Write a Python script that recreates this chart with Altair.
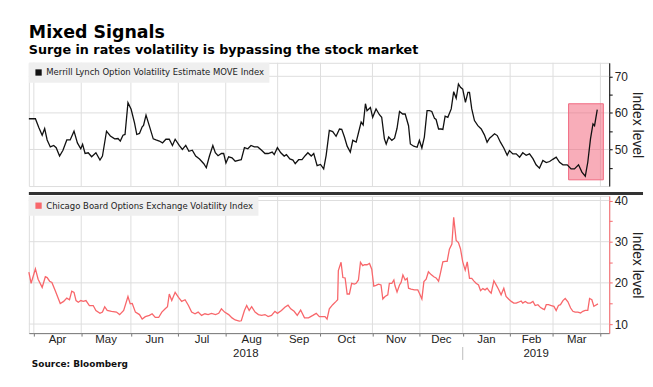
import altair as alt
import pandas as pd

TITLE = "Mixed Signals"
SUBTITLE = "Surge in rates volatility is bypassing the stock market"
MOVE_NAME = "Merrill Lynch Option Volatility Estimate MOVE Index"
VIX_NAME = "Chicago Board Options Exchange Volatility Index"
SOURCE = "Source: Bloomberg"
Y_TITLE = "Index level"

# x = trading-session position (0 = first session of April 2018)
move_pos = [-2.7, 0.2, 1.7, 3.2, 4.3, 5.4, 6.8, 8.3, 9.4, 10.9, 12.4, 14.1, 15.6, 17.3, 18.8,
            20.3, 21.1, 22.2, 23.6, 25.1, 27.0, 28.8, 29.9, 31.7, 33.4, 35.3, 36.8, 37.8, 39.0,
            39.9, 41.2, 42.6, 44.1, 45.1, 46.3, 47.5, 48.1, 49.2, 50.7, 52.4, 53.6, 55.1, 56.5,
            58.0, 59.5, 60.9, 62.1, 63.9, 65.3, 66.8, 68.2, 69.7, 71.2, 72.9, 74.8, 75.9, 77.3,
            78.8, 79.9, 81.1, 82.6, 83.6, 84.6, 85.8, 87.3, 88.7, 90.5, 91.4, 92.8, 94.3, 95.7,
            97.2, 98.7, 100.4, 101.9, 103.3, 105.1, 106.0, 107.4, 108.9, 110.4, 111.4, 112.9,
            114.3, 115.3, 116.8, 118.3, 119.7, 120.9, 122.4, 123.5, 125.0, 126.5, 127.9, 129.0,
            130.4, 131.9, 133.4, 134.9, 135.9, 137.1, 138.3, 139.7, 140.8, 142.3, 143.3, 144.5,
            145.4, 146.4, 147.1, 148.6, 149.6, 151.1, 152.6, 153.6, 154.8, 155.6, 156.7, 158.1,
            159.3, 160.4, 161.5, 162.9, 164.0, 165.5, 166.3, 167.8, 169.3, 170.3, 171.4, 172.5,
            173.7, 174.8, 175.8, 177.0, 177.7, 178.8, 179.9, 180.7, 181.7, 182.9, 184.4, 185.5,
            186.6, 187.6, 188.5, 189.5, 190.7, 191.8, 192.5, 193.5, 194.7, 196.2, 197.7, 199.1,
            200.3, 201.4, 202.4, 203.6, 204.8, 206.2, 207.7, 209.2, 210.2, 211.7, 213.2, 214.7,
            216.1, 217.6, 219.1, 220.6, 222.0, 223.5, 225.0, 226.5, 228.0, 229.4, 230.9, 232.4,
            233.9, 235.8, 237.5, 239.0, 240.8, 242.3, 243.8, 244.9, 246.1, 247.2, 247.9, 249.1]
move_val = [58.4, 58.4, 56.0, 53.9, 55.7, 52.6, 50.7, 51.1, 50.5, 48.2, 49.8, 52.6, 52.6, 55.0, 51.8,
            50.2, 51.4, 48.9, 49.1, 48.0, 49.1, 47.1, 48.2, 55.0, 53.7, 52.9, 53.0, 52.3, 53.9,
            54.1, 62.8, 61.0, 57.3, 54.1, 54.4, 56.2, 56.6, 59.4, 56.4, 52.9, 52.6, 52.3, 51.8,
            52.8, 52.8, 51.1, 52.8, 51.1, 50.0, 51.1, 49.5, 49.8, 48.2, 47.4, 46.1, 45.0, 48.2,
            51.1, 49.1, 48.3, 48.9, 48.9, 46.3, 48.0, 47.7, 46.8, 47.1, 47.2, 50.5, 50.2, 51.1,
            50.7, 50.7, 49.8, 48.9, 48.9, 49.3, 48.6, 50.5, 49.1, 48.2, 48.6, 47.4,
            47.1, 46.1, 47.2, 47.2, 48.3, 49.1, 48.2, 48.9, 45.6, 45.9, 44.7, 48.4,
            55.2, 54.9, 53.6, 55.6, 55.5, 53.4, 50.9, 49.3, 52.5, 52.0, 54.5, 57.5,
            56.7, 62.5, 60.6, 61.5, 58.8, 61.1, 59.5, 58.8, 52.9, 51.5, 53.4, 52.5,
            53.1, 55.8, 60.4, 59.7, 59.7, 56.5, 51.5, 50.9, 50.6, 52.5, 50.4, 53.4,
            60.6, 60.6, 60.4, 58.5, 58.2, 55.6, 55.6, 55.5, 59.1, 58.8, 61.1, 65.8,
            64.0, 67.9, 67.0, 66.5, 62.9, 65.6, 65.6, 61.1, 57.9, 56.5, 55.6, 54.0,
            52.0, 53.1, 53.6, 54.3, 53.8, 52.0, 50.4, 48.4, 49.7, 48.8, 48.8, 47.9,
            49.1, 48.4, 48.8, 47.5, 45.8, 44.9, 47.0, 46.4, 46.7, 47.3, 47.9, 46.5,
            45.8, 45.8, 44.7, 44.7, 45.8, 43.8, 42.7, 46.5, 52.9, 57.0, 56.5, 60.9]

vix_pos = [-2.7, -1.7, 0.2, 1.4, 3.2, 4.6, 5.4, 6.5, 7.5, 9.0, 11.2, 12.7, 14.1, 15.3, 16.3, 17.3,
           18.2, 19.2, 20.3, 21.4, 22.6, 24.1, 25.8, 27.0, 28.8, 29.9, 30.9, 32.0, 33.9, 36.1,
           37.5, 39.3, 41.2, 42.2, 43.1, 44.5, 46.3, 47.5, 48.9, 50.7, 51.9, 53.3, 54.8, 56.2,
           57.7, 58.7, 59.5, 60.6, 62.1, 63.6, 65.0, 66.5, 68.0, 69.4, 70.9, 72.3, 73.8, 75.3,
           76.7, 78.2, 80.0, 81.4, 82.6, 84.0, 85.8, 87.3, 88.7, 90.5, 91.4, 92.8, 93.8, 94.9,
           96.0, 97.5, 99.0, 100.4, 101.9, 103.3, 104.8, 106.3, 107.4, 109.2, 110.7, 112.1,
           113.3, 114.8, 116.2, 117.7, 119.4, 121.2, 123.1, 124.6, 126.0, 126.8, 128.5, 129.4,
           130.4, 131.9, 133.4, 134.1, 134.4, 135.6, 136.4, 137.4, 138.3, 139.3, 140.3, 141.5,
           142.3, 143.3, 144.2, 145.2, 146.0, 147.1, 148.2, 149.2, 150.1, 151.1, 152.2, 153.3,
           154.1, 155.1, 156.3, 157.0, 158.1, 159.0, 159.5, 160.4, 161.5, 162.2, 163.0, 164.0,
           164.9, 165.5, 166.6, 168.1, 169.6, 170.3, 171.4, 172.3, 173.3, 174.3, 175.5, 176.7,
           177.7, 178.8, 179.6, 180.7, 181.7, 182.6, 183.6, 184.7, 185.5, 186.6, 187.6, 188.5,
           189.5, 190.6, 191.5, 192.5, 193.5, 194.4, 195.4, 196.5, 197.4, 198.4, 199.4, 200.3,
           201.4, 202.1, 203.3, 204.3, 205.3, 206.5, 207.7, 208.7, 209.8, 211.0, 212.1, 213.2,
           214.2, 215.4, 216.1, 217.2, 218.3, 219.5, 220.6, 221.6, 222.8, 224.0, 225.0, 225.7,
           226.5, 227.5, 228.7, 229.9, 230.9, 231.9, 232.8, 233.9, 234.9, 236.1, 237.3, 238.3,
           239.3, 240.5, 241.7, 242.7, 243.8, 244.9, 245.7, 246.7, 247.6, 248.2, 249.4]
vix_val = [22.6, 19.9, 23.4, 20.9, 18.9, 21.5, 21.3, 20.4, 20.1, 18.1, 15.0, 15.5, 16.3, 15.9, 18.0, 17.7,
           15.7, 15.3, 15.7, 15.5, 15.7, 14.5, 14.5, 13.3, 12.6, 12.9, 14.2, 13.3, 13.1, 12.9,
           12.3, 13.3, 16.7, 14.9, 15.0, 12.9, 12.3, 11.2, 11.8, 12.1, 12.5, 11.6, 11.6, 12.9,
           13.7, 14.2, 17.3, 15.7, 17.7, 16.5, 15.5, 15.9, 14.5, 12.9, 12.5, 12.9, 12.1, 12.5,
           12.3, 12.6, 12.3, 12.6, 13.7, 12.9, 12.3, 11.5, 11.0, 10.7, 10.8, 13.3, 14.5, 13.3,
           14.2, 12.9, 12.3, 12.1, 12.3, 11.8, 12.1, 13.1, 12.6, 13.3, 14.1, 14.6,
           13.7, 13.1, 12.1, 13.4, 11.5, 11.5, 12.1, 12.6, 11.8, 11.8, 11.8, 11.2,
           13.7, 14.7, 15.5, 15.9, 23.0, 25.0, 21.3, 21.2, 17.3, 17.3, 19.9, 19.7,
           19.9, 20.7, 25.0, 24.2, 24.4, 24.4, 24.7, 23.3, 19.2, 19.4, 19.7, 19.5,
           16.1, 16.7, 17.1, 19.9, 19.9, 20.7, 19.3, 17.8, 19.5, 20.1, 21.9, 20.7,
           21.1, 18.7, 18.5, 18.3, 18.3, 17.5, 16.1, 20.3, 20.9, 22.7, 22.0, 21.5,
           21.2, 20.4, 22.3, 25.1, 25.2, 25.2, 28.2, 29.4, 35.9, 30.3, 29.8, 28.3,
           25.1, 23.1, 25.1, 21.1, 21.1, 20.5, 19.9, 19.5, 18.1, 18.6, 18.3, 18.7,
           17.9, 17.5, 20.5, 19.5, 18.5, 17.1, 18.7, 16.7, 16.1, 15.5, 15.1, 15.1,
           15.3, 15.6, 15.1, 15.5, 15.1, 15.1, 15.5, 14.5, 14.7, 14.0, 13.7, 13.5,
           14.7, 14.7, 14.5, 14.3, 13.3, 14.5, 14.7, 15.7, 16.2, 15.4, 13.9, 13.1,
           12.9, 12.9, 12.7, 13.1, 13.3, 13.3, 16.2, 15.9, 14.3, 14.5, 14.9]

month_labels = ["Apr", "May", "Jun", "Jul", "Aug", "Sep", "Oct", "Nov", "Dec", "Jan", "Feb", "Mar"]
month_mid = [10, 31.5, 53, 74, 96, 117, 138, 160, 180, 200, 220, 240]
month_bounds = [-0.5, 20.5, 42.5, 63.5, 84.5, 107.5, 126.5, 149.5, 170.5, 189.5, 210.5, 229.5, 250.5]
year_labels = ["2018", "2019"]
year_mid = [93.4, 222.0]
year_break = [189.5]
highlight_x = [236.4, 251.8]
highlight_y = [41.7, 62.5]

X_DOMAIN = [-2.7, 254.4]
TOP_DOMAIN = [40, 73.7]
BOT_DOMAIN = [7.8, 41.1]
TOP_TICKS = [45, 50, 55, 60, 65, 70]
BOT_TICKS = [10, 15, 20, 25, 30, 35, 40]
TOP_GRID = [50, 60, 70]
BOT_GRID = [10, 20, 30, 40]
W = 584
H_TOP = 124
H_BOT = 138

LABEL_FONT = "Liberation Sans"
LEGEND_FONT = "'DejaVu Sans Condensed', 'Liberation Sans', sans-serif"
BLACK = "#111111"
RED = "#f8676b"
GRID = "#dedede"

xscale = alt.Scale(domain=X_DOMAIN, nice=False, zero=False)
top_yscale = alt.Scale(domain=TOP_DOMAIN, nice=False, zero=False)
bot_yscale = alt.Scale(domain=BOT_DOMAIN, nice=False, zero=False)

move_df = pd.DataFrame({"pos": move_pos, "value": move_val, "series": MOVE_NAME})
vix_df = pd.DataFrame({"pos": vix_pos, "value": vix_val, "series": VIX_NAME})
hl_df = pd.DataFrame({"pos": [highlight_x[0]], "pos2": [highlight_x[1]],
                      "value": [highlight_y[0]], "value2": [highlight_y[1]]})
month_df = pd.DataFrame({"pos": month_mid, "label": month_labels})
year_df = pd.DataFrame({"pos": year_mid, "label": year_labels})
break_df = pd.DataFrame({"pos": year_break})
vgrid_df = pd.DataFrame({"pos": month_bounds})
top_hgrid_df = pd.DataFrame({"value": TOP_GRID})
bot_hgrid_df = pd.DataFrame({"value": BOT_GRID})


def y_axis(values, red=False):
    col = RED if red else "#000000"
    return alt.Axis(
        orient="right", values=values, title=Y_TITLE, grid=False,
        labelExpr="datum.value % 10 === 0 ? datum.label : ''",
        domainColor=col, tickColor=col, tickSize=3, labelPadding=2,
        labelFont=LABEL_FONT, labelFontSize=12, labelColor="#222222",
        titleFont=LABEL_FONT, titleFontSize=14, titleFontWeight="normal",
        titleColor="#222222", titlePadding=2,
    )


def legend(color):
    return alt.Legend(
        orient="top-left", offset=0, title=None, fillColor="#efefef", padding=5,
        symbolType="square", symbolSize=40, symbolFillColor=color, symbolStrokeColor=color,
        symbolStrokeWidth=0, symbolOpacity=1, labelFont=LEGEND_FONT, labelFontSize=9.5,
        labelColor="#222222", labelLimit=0, labelOffset=3,
    )


top_x_axis = alt.Axis(values=month_bounds, labels=False, ticks=False, domain=False, grid=False,
                      title=None)
bot_x_axis = alt.Axis(values=month_bounds, labels=False, ticks=True, tickSize=3,
                      tickColor="#777777", domain=True, domainColor="#777777", grid=False,
                      title=None)

top_x = alt.X("pos:Q", scale=xscale, axis=top_x_axis)
top_y = alt.Y("value:Q", scale=top_yscale, axis=y_axis(TOP_TICKS))
bot_x = alt.X("pos:Q", scale=xscale, axis=bot_x_axis)
bot_y = alt.Y("value:Q", scale=bot_yscale, axis=y_axis(BOT_TICKS, red=True))

# light grid lines
top_vgrid = alt.Chart(vgrid_df).mark_rule(color=GRID, strokeWidth=1).encode(x=top_x)
top_hgrid = alt.Chart(top_hgrid_df).mark_rule(color=GRID, strokeWidth=1).encode(y=top_y)
bot_vgrid = alt.Chart(vgrid_df).mark_rule(color=GRID, strokeWidth=1).encode(x=bot_x)
bot_hgrid = alt.Chart(bot_hgrid_df).mark_rule(color=GRID, strokeWidth=1).encode(y=bot_y)

hl = alt.Chart(hl_df).mark_rect(fill="#f25c73", fillOpacity=0.5, stroke="#f06a80",
                                strokeWidth=1).encode(
    x=top_x, x2="pos2:Q", y=top_y, y2="value2:Q")

top_line = alt.Chart(move_df).mark_line(strokeWidth=1.3).encode(
    x=top_x, y=top_y,
    color=alt.Color("series:N", scale=alt.Scale(domain=[MOVE_NAME], range=[BLACK]),
                    legend=legend(BLACK)),
)

top = alt.layer(top_vgrid, top_hgrid, hl, top_line).properties(width=W, height=H_TOP)

bot_line = alt.Chart(vix_df).mark_line(strokeWidth=1.3).encode(
    x=bot_x, y=bot_y,
    color=alt.Color("series:N", scale=alt.Scale(domain=[VIX_NAME], range=[RED]),
                    legend=legend(RED)),
)

# thick divider between the two panels
sep = alt.Chart(pd.DataFrame({"t": [SOURCE]})).mark_rule(color="#333333", strokeWidth=3).encode(
    y=alt.value(-2.5), x=alt.value(0), x2=alt.value(W + 34))

months = alt.Chart(month_df).mark_text(font=LABEL_FONT, fontSize=11.5, color="#222222",
                                       baseline="alphabetic").encode(
    x=bot_x, y=alt.value(H_BOT + 10), text="label:N")

years = alt.Chart(year_df).mark_text(font=LABEL_FONT, fontSize=11.5, color="#222222",
                                     baseline="alphabetic").encode(
    x=bot_x, y=alt.value(H_BOT + 24), text="label:N")

ybreak = alt.Chart(break_df).mark_rule(color="#bbbbbb", strokeWidth=1).encode(
    x=bot_x, y=alt.value(H_BOT + 14), y2=alt.value(H_BOT + 27))

source = alt.Chart(pd.DataFrame({"t": [SOURCE]})).mark_text(
    font="DejaVu Sans", fontWeight="bold", fontSize=9, color="#111111", align="left",
    baseline="alphabetic").encode(x=alt.value(3), y=alt.value(H_BOT + 34), text="t:N")

bottom = alt.layer(bot_vgrid, bot_hgrid, bot_line, sep, months, years, ybreak,
                   source).properties(width=W, height=H_BOT)

chart = alt.vconcat(top, bottom, spacing=4).resolve_scale(
    color="independent").resolve_legend(color="independent").properties(
    title=alt.Title(TITLE, subtitle=SUBTITLE, anchor="start", frame="group",
                    font="DejaVu Sans", fontSize=17.5, fontWeight="bold", color="#000000",
                    subtitleFont="DejaVu Sans", subtitleFontSize=12.8,
                    subtitleFontWeight="bold", subtitleColor="#000000",
                    subtitlePadding=3, offset=5),
    padding={"left": 17, "top": 14, "right": 0, "bottom": 5},
).configure_view(stroke=None).configure(background="white")

chart.save("out.html", embed_options={"renderer": "svg", "actions": False})
